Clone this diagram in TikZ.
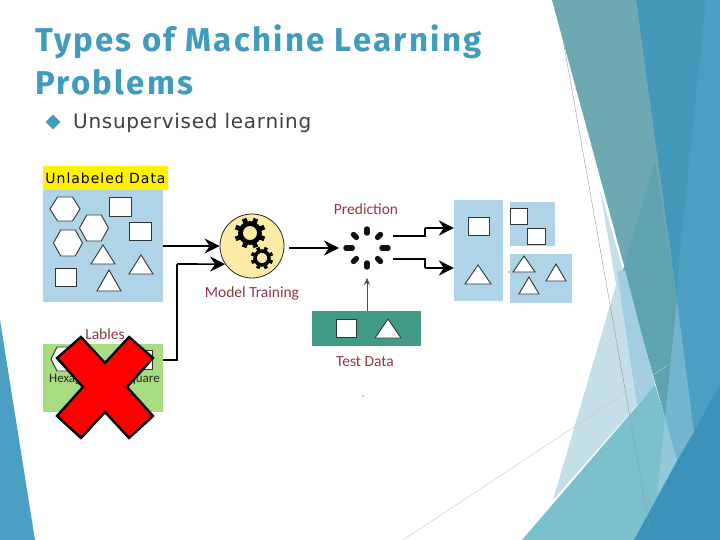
\documentclass[tikz,border=0pt]{standalone}
\usepackage{fontspec}
\usetikzlibrary{arrows.meta,shapes.geometric,calc}
\setmainfont{DejaVu Sans}
\newfontfamily\carl{Carlito}
\newfontfamily\ttl[LetterSpace=7]{Fira Sans}
\newfontfamily\subf[LetterSpace=3.6]{DejaVu Sans}
\newfontfamily\ulabf[LetterSpace=7]{DejaVu Sans}
\definecolor{titleblue}{HTML}{3F9CBE}
\definecolor{band}{HTML}{4A9FC3}
\definecolor{bandd}{HTML}{4499BB}
\definecolor{tealA}{HTML}{6CA9B3}
\definecolor{tealB}{HTML}{5FA3AE}
\definecolor{deep}{HTML}{3B93BB}
\definecolor{aqua}{HTML}{7BC1CD}
\definecolor{pale}{HTML}{C5DFE9}
\definecolor{mid}{HTML}{A3CDE0}
\definecolor{rightb}{HTML}{72B5CE}
\definecolor{paneblue}{HTML}{B0D4E7}
\definecolor{panegreen}{HTML}{A8DC80}
\definecolor{paneteal}{HTML}{409A85}
\definecolor{wine}{HTML}{8B3A42}
\definecolor{spoke}{HTML}{111111}
\definecolor{modelfill}{HTML}{FDEBA6}
\tikzset{
 shp/.style={draw=black!80,fill=white,line width=.9pt,line join=miter},
 capt/.style={text=wine,font=\fontsize{15.5}{17}\selectfont\carl,inner sep=0pt},
 conn/.style={line width=1.6pt,-{Stealth[length=15pt,width=15pt,inset=5pt]}},
 wire/.style={line width=1.6pt},
 thinconn/.style={line width=.7pt,draw=black!70,-{Stealth[length=7pt,width=6pt]}},
 hair/.style={draw=black!40,line width=.4pt},
 hair2/.style={draw=black!22,line width=.4pt}
}
\newcommand{\sqr}[4]{\draw[shp] (#1,#3) rectangle (#2,#4);}
\newcommand{\tri}[4]{\draw[shp] (#1,#2) -- (#3,#4) -- (2*#1-#3,#4) -- cycle;}
\newcommand{\hexa}[4]{\draw[shp] (#1-#3,#2) -- (#1-#3/2,#2-#4) -- (#1+#3/2,#2-#4) -- (#1+#3,#2) -- (#1+#3/2,#2+#4) -- (#1-#3/2,#2+#4) -- cycle;}
\newcommand{\gearat}[4]{%
 \foreach \a in {0,45,...,315}{\draw[line width=#3*0.5pt,draw=black] (#1,#2) ++(\a+22.5:#3*1pt) -- ++(\a+22.5:#4*1pt-#3*1pt);}
 \draw[line width=#3*0.5pt,draw=black,fill=none] (#1,#2) circle[radius=#3*1pt];}
\begin{document}
\begin{tikzpicture}[x=1pt,y=-1pt]
\useasboundingbox (0,0) rectangle (720,540);
\fill[white] (0,0) rectangle (720,540);
% background geometry
\fill[band] (0,320) -- (35,540) -- (0,540) -- cycle;
\fill[band] (636,0) -- (720,0) -- (720,540) -- (630,540) -- (665,417) -- cycle;
\fill[bandd] (636,0) -- (706,0) -- (678,270) -- (677,300) -- (672,270) -- cycle;
\fill[pale] (600,190) -- (623,270) -- (655,385) -- (637,405) -- (553,500) -- (616,285) -- cycle;
\fill[tealA] (552,0) -- (636,0) -- (677,300) -- (665,417) -- cycle;
\fill[tealB] (623,270) -- (655,160) -- (672,270) -- (677,300) -- (665,417) -- cycle;
\fill[mid] (617,272) -- (625,270) -- (655,385) -- (637,405) -- cycle;
\fill[aqua] (522,540) -- (655,385) -- (665,417) -- (677,460) -- (634,540) -- cycle;
\fill[rightb] (677,300) -- (694,432) -- (677,460) -- (665,417) -- cycle;
\fill[mid!60!aqua] (665,417) -- (677,460) -- (657,497) -- cycle;
\fill[deep] (720,385) -- (720,540) -- (634,540) -- cycle;
\draw[hair] (556,0) -- (650,530);
\draw[hair2] (403,540) -- (668,365);
% title
\node[anchor=north west,inner sep=0pt,align=left,text=titleblue,font=\fontsize{33}{43}\selectfont\ttl\bfseries] (title) at (35,25) {Types of Machine Learning\\Problems};
\node[diamond,fill=titleblue,inner sep=0pt,minimum width=15pt,minimum height=15pt] (bullet) at (53,122) {};
\node[anchor=west,inner sep=0pt,text=black!75,font=\fontsize{20}{23}\selectfont\subf] (sub) at (73,123) {Unsupervised learning};
% panels
\node[fill=yellow,inner sep=0pt,minimum width=125pt,minimum height=24pt,font=\fontsize{14}{16}\selectfont\ulabf] (ulab) at (105.5,178) {Unlabeled Data};
\node[fill=paneblue,inner sep=0pt,minimum width=120pt,minimum height=112pt] (data) at (103,246) {};
\node[fill=panegreen,inner sep=0pt,minimum width=120pt,minimum height=68pt] (labels) at (103,378) {};
\node[fill=paneteal,inner sep=0pt,minimum width=109pt,minimum height=35pt] (test) at (366.5,328.5) {};
\node[fill=paneblue,inner sep=0pt,minimum width=49pt,minimum height=101pt] (resA) at (478.5,250.5) {};
\node[fill=paneblue,inner sep=0pt,minimum width=45pt,minimum height=44pt] (resB) at (532.5,224) {};
\node[fill=paneblue,inner sep=0pt,minimum width=62pt,minimum height=49pt] (resC) at (541,278.5) {};
% unlabeled shapes
\hexa{65}{209}{15}{12}\hexa{94}{228}{14.5}{13}\hexa{68}{243}{14.5}{13}
\sqr{109}{131}{197}{216}\sqr{129}{151}{222}{240}\sqr{55}{76}{268}{286}
\tri{103}{245}{115}{264}\tri{141}{255}{153}{274}\tri{109}{270}{121}{291}
% model
\node[circle,draw=black!85,fill=modelfill,line width=.8pt,minimum size=64pt,inner sep=0pt] (model) at (252,246) {};
\gearat{250}{233}{9.5}{15.5}
\gearat{262}{258}{7}{11.3}
% spinner
\node[inner sep=0pt,minimum size=2pt] (pred) at (367,248) {};
\foreach \a in {45,90,...,315}{\draw[line width=5.5pt,line cap=round,draw=spoke] (pred.center) ++(\a:15pt) -- ++(\a:4pt);}
\draw[line width=5.5pt,line cap=round,draw=spoke] (pred.center) ++(0:15pt) -- ++(0:6pt);
\draw[line width=5.5pt,line cap=round,draw=spoke] (pred.center) ++(180:15pt) -- ++(180:6pt);
% connectors
\coordinate (elbow) at (177,360);
\coordinate (elbowup) at (177,264);
\draw[wire] (labels.east |- elbow) -- (elbow) -- (elbowup);
\draw[conn] (elbowup) -- (model.214);
\draw[conn] (data.east |- model.west) -- (model.west);
\coordinate (mout) at (289,248);
\coordinate (pin) at (339,248);
\draw[conn] (mout) -- (pin);
\coordinate (a1) at (393,236);\coordinate (a2) at (425,236);\coordinate (a3) at (425,228);
\coordinate (b1) at (393,259);\coordinate (b2) at (425,259);\coordinate (b3) at (425,268);
\draw[wire,line width=1.1pt] (a1) -- (a2) -- (a3);
\draw[conn,line width=1.1pt] (a3) -- (resA.west |- a3);
\draw[wire,line width=1.1pt] (b1) -- (b2) -- (b3);
\draw[conn,line width=1.1pt] (b3) -- (resA.west |- b3);
\coordinate (tin) at (367,278);
\draw[thinconn] (test.north -| tin) -- (tin);
% test shapes
\sqr{336}{356}{319}{337}\tri{388}{319}{401}{338}
% results
\sqr{468}{489}{217}{235}\tri{478}{265}{491}{284}
\sqr{510}{527}{208}{224}\sqr{527}{545}{228}{244}
\tri{524}{256}{535}{272}\tri{556}{264}{566}{281}\tri{529}{277}{539}{294}
% captions
\node[capt] (cp) at (366,209) {Prediction};
\node[capt] (cm) at (252,293) {Model Training};
\node[capt] (ct) at (365,362) {Test Data};
\node[capt] (cl) at (105,334) {Lables};
% labels panel content
\hexa{63}{359}{12}{12}
\sqr{133}{152}{350}{369}
\node[anchor=west,inner sep=0pt,text=black!85,font=\fontsize{13}{14}\selectfont\carl] (hx) at (49,379) {Hexagon};
\node[anchor=east,inner sep=0pt,text=black!85,font=\fontsize{13}{14}\selectfont\carl] (sq) at (160,379) {Square};
\fill[black] (363,396) circle[radius=.7];
\fill[black] (509,272) circle[radius=.6];
% cross
\draw[fill=red,draw=black,line width=2.4pt,line join=miter] (81,337) -- (105,363) -- (129,337) -- (153,358) -- (127,387) -- (153,416) -- (129,438) -- (105,412) -- (81,438) -- (57,416) -- (83,387) -- (57,358) -- cycle;
\end{tikzpicture}
\end{document}
